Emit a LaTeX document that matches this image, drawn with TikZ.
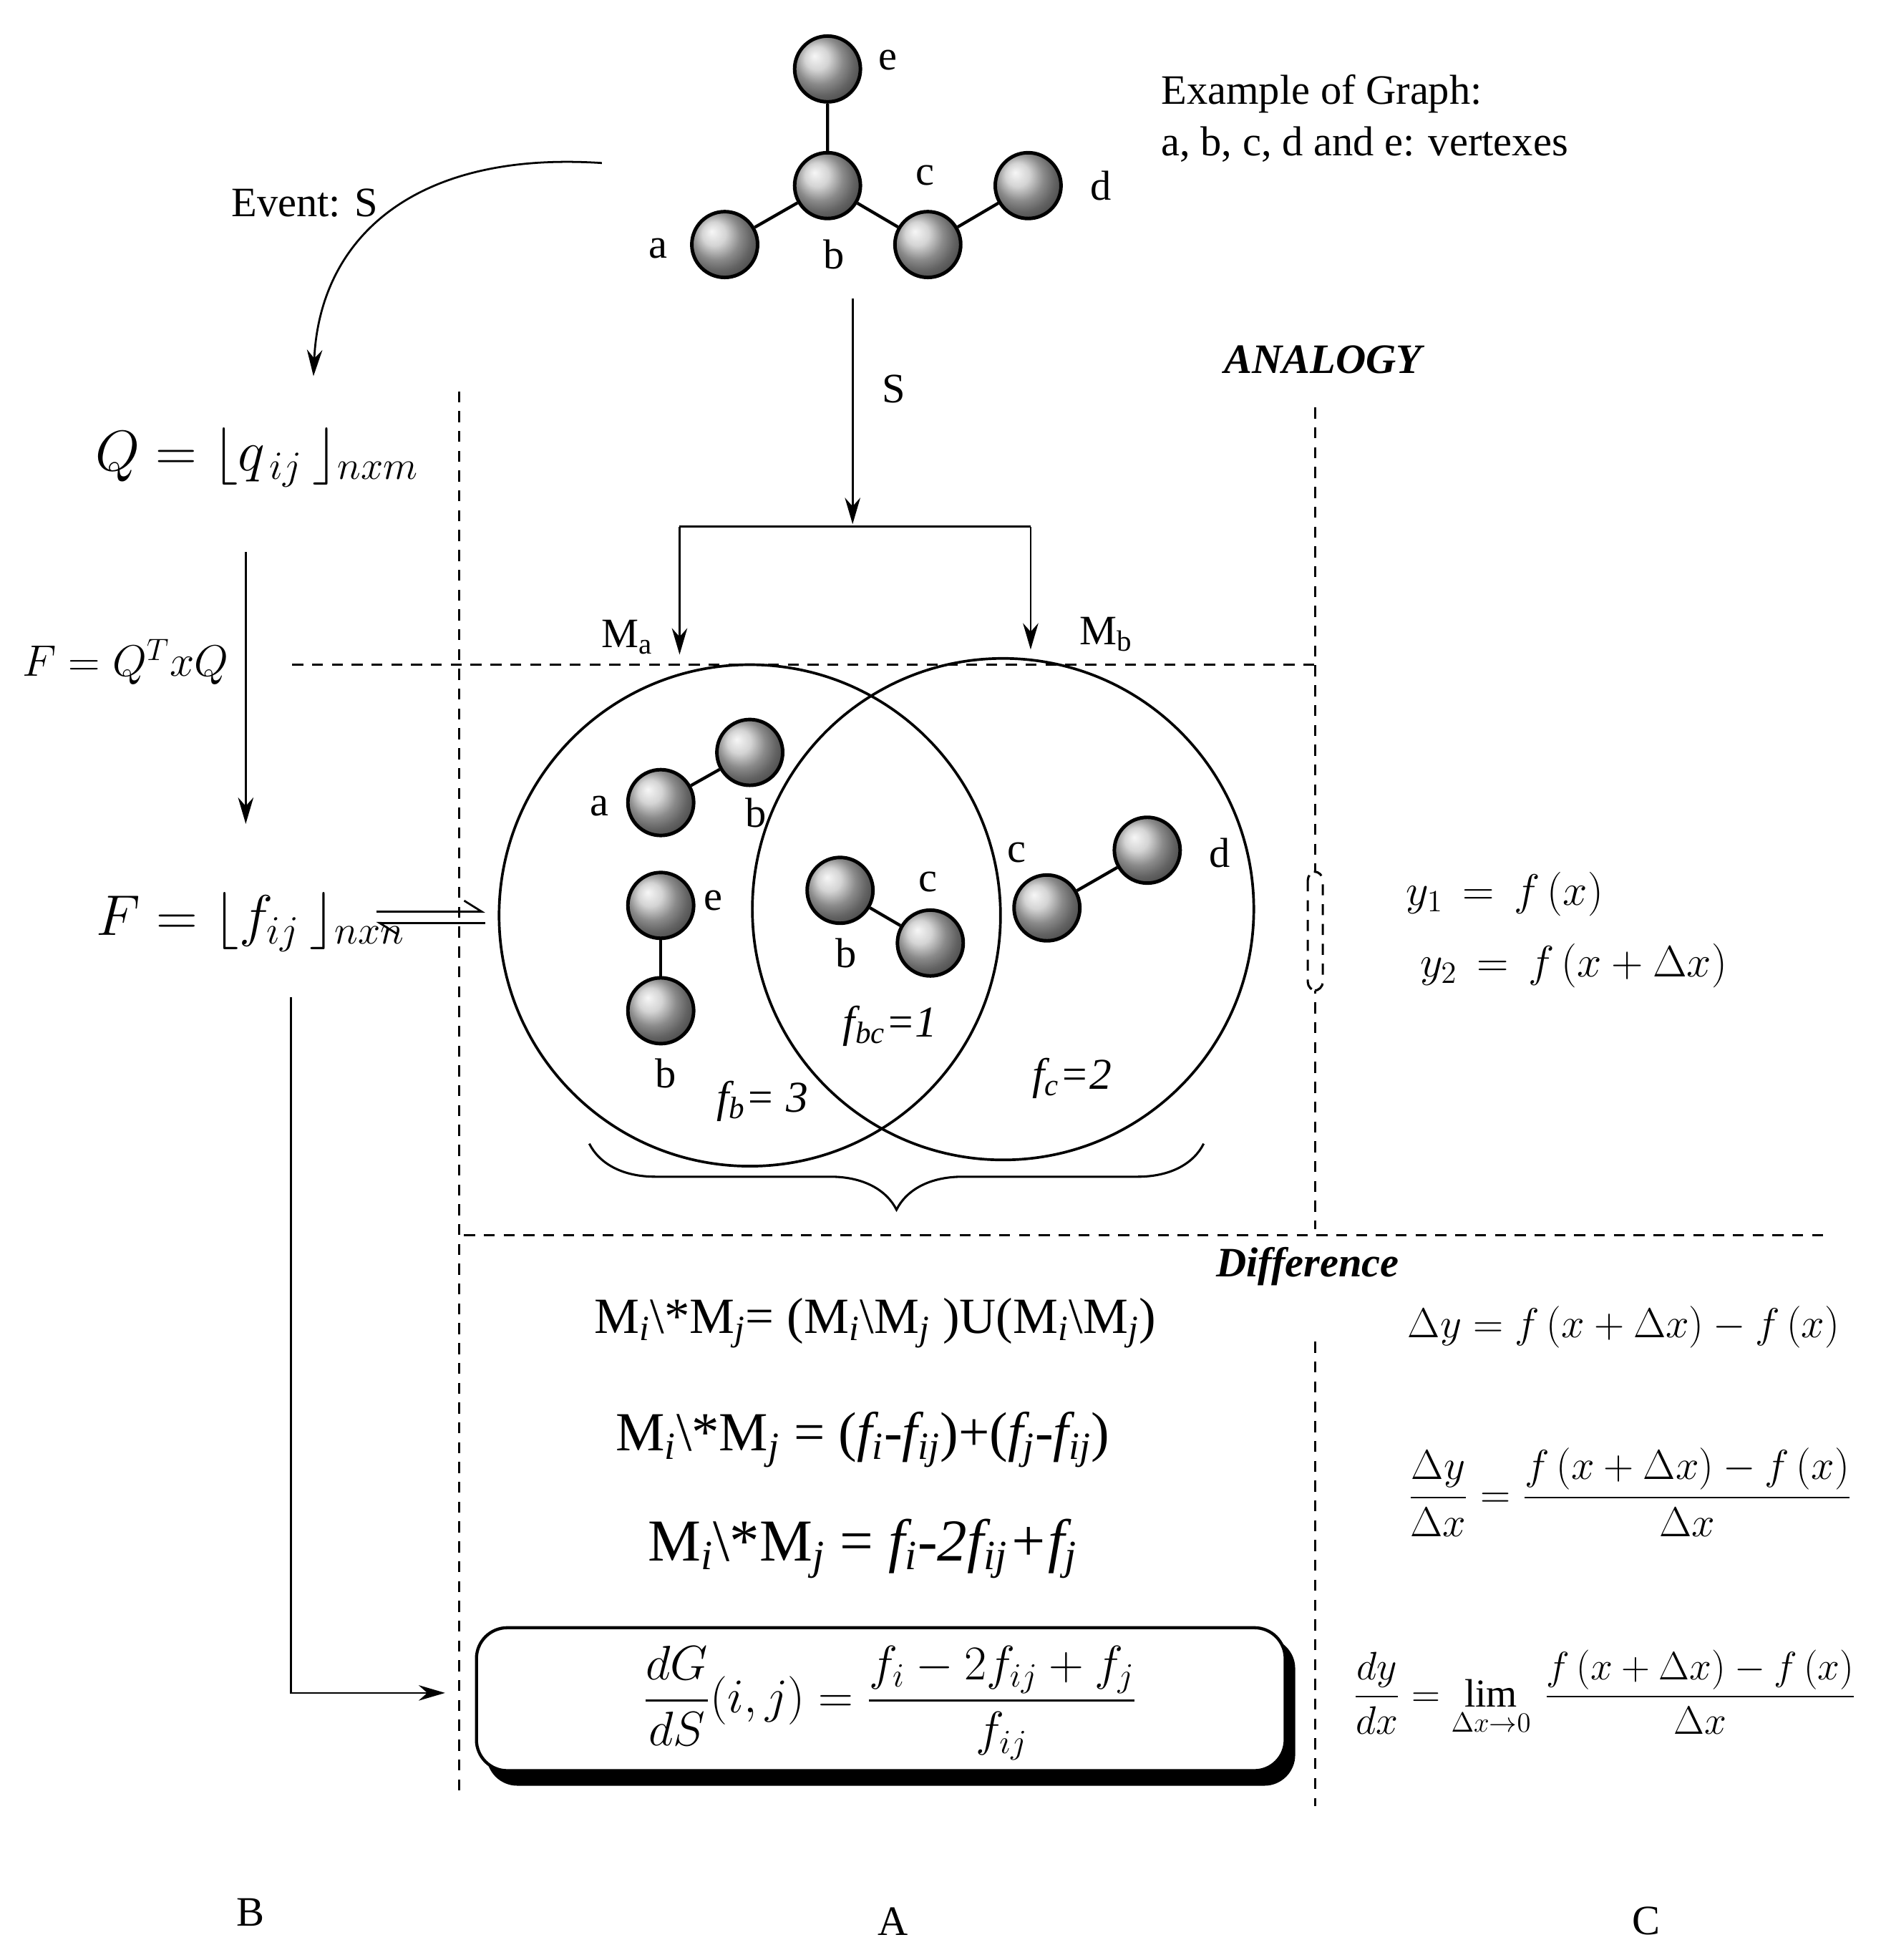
\RequirePackage{fix-cm}
\documentclass[tikz,border=0pt]{standalone}
\usepackage{amsmath}
\usepackage{fontspec}
\setmainfont{Liberation Serif}
\usetikzlibrary{arrows.meta,decorations.pathreplacing,shadows}
\newcommand{\fs}[1]{\fontsize{#1}{#1}\selectfont}
\begin{document}
\begin{tikzpicture}[x=0.02cm,y=-0.02cm,
  ball/.style={circle,draw=black,line width=1.6pt,minimum size=1.05cm,inner sep=0pt,shading=ball,ball color=gray!45},
  bond/.style={line width=1.4pt},
  lab/.style={font=\fs{19}},
  txt/.style={font=\fs{19},anchor=west},
  arr/.style={-{Stealth[length=12pt,width=7pt]},line width=0.9pt},
  dsh/.style={dashed,line width=1pt,dash pattern=on 5pt off 4pt},
  big/.style={font=\fs{26}}]
\useasboundingbox (0,0) rectangle (1500,1563);
% top graph
\node[ball] (ge) at (660,55) {};
\node[ball] (gb) at (660,148) {};
\node[ball] (ga) at (578,195) {};
\node[ball] (gc) at (740,195) {};
\node[ball] (gd) at (820,148) {};
\draw[bond] (ge)--(gb) (gb)--(ga) (gb)--(gc) (gc)--(gd);
\node[lab] (le) at (708,48) {e};
\node[lab] (lc) at (738,140) {c};
\node[lab] (ld) at (878,148) {d};
\node[lab] (la) at (525,198) {a};
\node[lab] (lb) at (665,203) {b};
\node[txt] (ex1) at (920,75) {Example of Graph:};
\node[txt] (ex2) at (920,115) {a, b, c, d and e: vertexes};
% event arrow
\coordinate (ev0) at (480,130);
\coordinate (ev1) at (250,300);
\draw[arr] (ev0) .. controls (330,120) and (255,190) .. (ev1);
\node[lab] (evl) at (243,162) {Event: S};
% S arrow
\coordinate (s0) at (680,238);
\coordinate (s1) at (680,418);
\draw[arr] (s0)--(s1);
\node[lab] (sl) at (713,310) {S};
\coordinate (bl) at (542,420);
\coordinate (br) at (822,420);
\coordinate (bla) at (542,522);
\coordinate (bra) at (822,518);
\draw[line width=0.9pt] (bl)--(br);
\draw[arr] (bl)--(bla);
\draw[arr] (br)--(bra);
\node[lab] (ma) at (500,508) {M\textsubscript{a}};
\node[lab] (mb) at (882,506) {M\textsubscript{b}};
\node[font=\fs{19}\bfseries\itshape] (analogy) at (1055,287) {ANALOGY};
% dashed lines
\coordinate (d1a) at (366,312); \coordinate (d1b) at (366,1430);
\coordinate (d2a) at (1049,325); \coordinate (d2b) at (1049,980);
\coordinate (d3a) at (1049,1070); \coordinate (d3b) at (1049,1440);
\coordinate (h1a) at (233,530); \coordinate (h1b) at (1049,530);
\coordinate (h2a) at (370,985); \coordinate (h2b) at (1455,985);
\draw[dsh] (d1a)--(d1b) (d2a)--(d2b) (d3a)--(d3b) (h1a)--(h1b) (h2a)--(h2b);
\draw[dsh,rounded corners=4pt,fill=white] (1043,695) rectangle (1055,790);
% Q and F
\node[big] (Q) at (205,365) {$Q=\lfloor q_{\,ij}\,\rfloor_{nxm}$};
\coordinate (qa) at (196,440); \coordinate (qb) at (196,657);
\draw[arr] (qa)--(qb);
\node[font=\fs{20}] (fq) at (100,528) {$F=Q^{T}xQ$};
\node[big] (F) at (200,735) {$F=\lfloor f_{ij}\,\rfloor_{nxn}$};
\coordinate (h0) at (300,727); \coordinate (h1) at (387,727);
\coordinate (k0) at (300,736); \coordinate (k1) at (387,736);
\draw[-{Straight Barb[left,length=8pt,width=10pt]},line width=0.9pt] (h0)--(h1);
\draw[-{Straight Barb[left,length=8pt,width=10pt]},line width=0.9pt] (k1)--(k0);
\coordinate (l0) at (232,795); \coordinate (l1) at (232,1350); \coordinate (l2) at (355,1350);
\draw[arr] (l0)--(l1)--(l2);
% circles
\node[circle,draw,line width=1.2pt,minimum size=8cm,inner sep=0pt] (cL) at (598,730) {};
\node[circle,draw,line width=1.2pt,minimum size=8cm,inner sep=0pt] (cR) at (800,725) {};
\node[ball] (i1) at (527,640) {};
\node[ball] (i2) at (598,600) {};
\draw[bond] (i1)--(i2);
\node[lab] (t1) at (478,643) {a};
\node[lab] (t2) at (603,648) {b};
\node[ball] (i3) at (527,722) {};
\node[ball] (i4) at (527,806) {};
\draw[bond] (i3)--(i4);
\node[lab] (t3) at (569,718) {e};
\node[lab] (t4) at (531,856) {b};
\node[ball] (i5) at (670,710) {};
\node[ball] (i6) at (742,752) {};
\draw[bond] (i5)--(i6);
\node[lab] (t5) at (740,703) {c};
\node[lab] (t6) at (675,760) {b};
\node[ball] (i7) at (835,724) {};
\node[ball] (i8) at (915,678) {};
\draw[bond] (i7)--(i8);
\node[lab] (t7) at (811,680) {c};
\node[lab] (t8) at (973,680) {d};
\node[font=\fs{20}\itshape] (fb) at (608,878) {f\textsubscript{b}= 3};
\node[font=\fs{20}\itshape] (fbc) at (710,818) {f\textsubscript{bc}=1};
\node[font=\fs{20}\itshape] (fc) at (855,860) {f\textsubscript{c}=2};
\draw[decorate,decoration={brace,mirror,amplitude=30pt},line width=1pt] (470,912) -- (960,912);
% analogy formulas
\node[font=\fs{20}] (y1) at (1200,713) {$y_1\,=\,f\,(x)$};
\node[font=\fs{20}] (y2) at (1255,770) {$y_2\,=\,f\,(x+\Delta x)$};
\node[font=\fs{19}\bfseries\itshape] (diff) at (1043,1010) {Difference};
\node[font=\fs{23}] (m1) at (698,1055) {M\textsubscript{\textit{i}}\textbackslash*M\textsubscript{\textit{j}}= (M\textsubscript{\textit{i}}\textbackslash M\textsubscript{\textit{j}} )U(M\textsubscript{\textit{i}}\textbackslash M\textsubscript{\textit{j}})};
\node[font=\fs{25}] (m2) at (688,1148) {M\textsubscript{\textit{i}}\textbackslash*M\textsubscript{\textit{j}} = (\textit{f\textsubscript{i}-f\textsubscript{ij}})+(\textit{f\textsubscript{j}-f\textsubscript{ij}})};
\node[font=\fs{27}] (m3) at (688,1235) {M\textsubscript{\textit{i}}\textbackslash*M\textsubscript{\textit{j}} = \textit{f\textsubscript{i}-2f\textsubscript{ij}+f\textsubscript{j}}};
\node[font=\fs{19}] (dy) at (1295,1058) {$\Delta y=f\,(x+\Delta x)-f\,(x)$};
\node[font=\fs{19}] (dydx) at (1300,1190) {$\dfrac{\Delta y}{\Delta x}=\dfrac{f\,(x+\Delta x)-f\,(x)}{\Delta x}$};
\node[font=\fs{18}] (lim) at (1280,1350) {$\dfrac{dy}{dx}=\lim\limits_{\Delta x\to 0}\,\dfrac{f\,(x+\Delta x)-f\,(x)}{\Delta x}$};
% box
\fill[black,rounded corners=14pt] (388,1306) rectangle (1033,1424);
\draw[fill=white,line width=1.4pt,rounded corners=14pt] (380,1298) rectangle (1025,1412);
\node[font=\fs{22}] (dG) at (710,1358) {$\dfrac{dG}{dS}(i,j)=\dfrac{f_i-2f_{ij}+f_j}{f_{ij}}$};
\node[lab] (B) at (200,1525) {B};
\node[lab] (A) at (712,1532) {A};
\node[lab] (C) at (1313,1532) {C};
\end{tikzpicture}
\end{document}
